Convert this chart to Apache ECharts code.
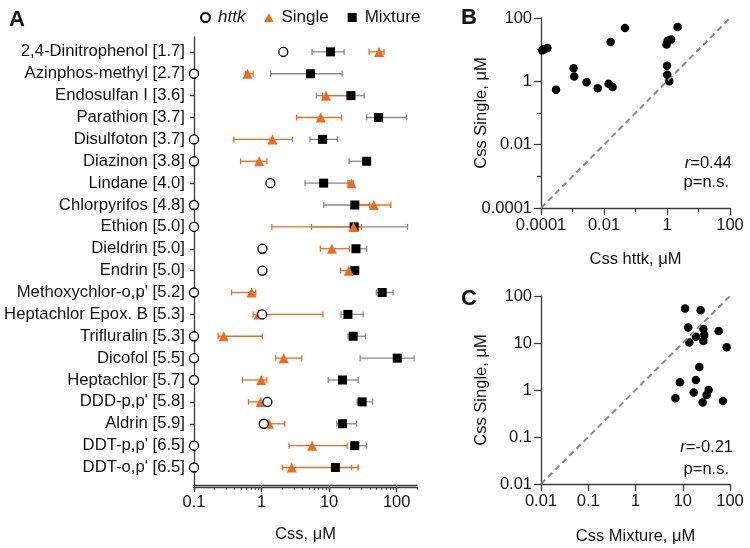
<!DOCTYPE html>
<html>
<head>
    <meta charset="utf-8" />
    <title>Css comparison</title>
    <script src="https://cdn.jsdelivr.net/npm/echarts@6/dist/echarts.min.js"></script>
    <style>
        body { margin: 0; background: #fff; }
        #main { width: 750px; height: 548px; }
    </style>
</head>
<body>
    <div id="main"></div>
    <script type="text/javascript">
        // panel A: chemicals [logP]
        var names = ['2,4-Dinitrophenol [1.7]', 'Azinphos-methyl [2.7]', 'Endosulfan I [3.6]', 'Parathion [3.7]',
            'Disulfoton [3.7]', 'Diazinon [3.8]', 'Lindane [4.0]', 'Chlorpyrifos [4.8]', 'Ethion [5.0]',
            'Dieldrin [5.0]', 'Endrin [5.0]', "Methoxychlor-o,p' [5.2]", 'Heptachlor Epox. B [5.3]',
            'Trifluralin [5.3]', 'Dicofol [5.5]', 'Heptachlor [5.7]', "DDD-p,p' [5.8]", 'Aldrin [5.9]',
            "DDT-p,p' [6.5]", "DDT-o,p' [6.5]"];
        var httk = [2.1, 0.1, null, null, 0.1, 0.1, 1.35, 0.1, 0.1, 1.03, 1.03, 0.1, 1.02, 0.1, 0.1, 0.1, 1.22, 1.08, 0.1, 0.1];
        var single = [55, 0.62, 9.0, 7.5, 1.45, 0.92, 21.5, 46, 23, 11, 19.6, 0.71, 0.9, 0.275, 2.13, 0.99, 0.97, 1.29, 5.6, 2.8];
        var singleLo = [39, 0.58, 8, 3.3, 0.39, 0.49, 19, 25, 1.42, 7.4, 14.8, 0.36, 0.75, 0.227, 1.62, 0.52, 0.64, 1.1, 2.55, 2.04];
        var singleHi = [65, 0.75, 24, 15.3, 2.87, 1.2, 23, 82, 30, 20, 22, 0.82, 8.1, 1.03, 3.94, 1.2, 1.2, 2.2, 18.5, 26.9];
        var mix = [10.5, 5.3, 21, 54, 8.0, 36, 8.3, 24, 23.5, 25, 24, 61, 19, 22.7, 102, 15.8, 30.8, 15.8, 24, 12.4];
        var mixLo = [5.6, 1.36, 6.5, 36, 5.2, 19.8, 4.4, 8.3, 5.5, 22, 22, 50, 15, 19, 28.8, 9.7, 26, 13, 21, 11.3];
        var mixHi = [16.7, 15.6, 33, 140, 13.3, 40, 20, 40, 145, 36, 26, 89, 32, 34.6, 181, 26.9, 44, 25.5, 35.8, 21.5];

        // panel B: httk vs single
        var bHttk = [0.00011, 0.00013, 0.00016, 0.0003, 0.00108, 0.00114, 0.0028, 0.0063, 0.014, 0.0187,
            0.0162, 0.0465, 2.17, 0.97, 1.05, 1.35, 1.0, 1.02, 1.18];
        var bSingle = [9.5, 10.5, 11.2, 0.54, 2.6, 1.43, 0.93, 0.6, 0.84, 0.66,
            17.5, 48, 52, 14.5, 19, 21, 3.1, 1.62, 1.0];

        // panel C: mixture vs single
        var cMix = [11.2, 23.9, 13.1, 27.3, 19, 28.6, 13.8, 27.3, 57.5, 85, 22.4, 101, 8.7, 19, 7.0, 17, 35.3, 32, 26.4, 71];
        var cSingle = [54, 50, 21.5, 19.8, 13.6, 14.8, 10.2, 11, 18, 8.1, 3.1, 2.6, 1.46, 1.63, 0.67, 0.88, 1.0, 0.78, 0.54, 0.58];

        // tick values
        var ticksA = [0.1, 1, 10, 100];
        var minorA = [0.2, 0.3, 0.4, 0.5, 0.6, 0.7, 0.8, 0.9, 2, 3, 4, 5, 6, 7, 8, 9, 20, 30, 40, 50, 60, 70, 80, 90, 200];
        var ticksB = [0.0001, 0.01, 1, 100];
        var minorB = [0.001, 0.1, 10];
        var ticksC = [0.01, 0.1, 1, 10, 100];

        var font = 'Liberation Sans, Arial, sans-serif';
        var txt = '#111';
        var orange = '#F06A1E';
        var gray = '#8a8a8a';
        var axisCol = '#3a3a3a';

        function fmt(v) {
            var e = Math.round(Math.log10(v));
            return e < 0 ? Math.pow(10, e).toFixed(-e) : String(Math.pow(10, e));
        }

        // first row at the top (19.8), last at 0.8; the y axis runs 0..20.48
        var rows = names.map(function (n, i) { return 19.8 - i; });
        function rowName(v) { return names[Math.round(19.8 - v)]; }

        function errBar(color) {
            return function (params, api) {
                var y = api.value(2);
                var a = api.coord([api.value(0), y]);
                var b = api.coord([api.value(1), y]);
                var st = { stroke: color, lineWidth: 1.3 };
                return {
                    type: 'group',
                    children: [
                        { type: 'line', shape: { x1: a[0], y1: a[1], x2: b[0], y2: b[1] }, style: st },
                        { type: 'line', shape: { x1: a[0], y1: a[1] - 3, x2: a[0], y2: a[1] + 3 }, style: st },
                        { type: 'line', shape: { x1: b[0], y1: b[1] - 3, x2: b[0], y2: b[1] + 3 }, style: st }
                    ]
                };
            };
        }

        // lineOn: draw the axis line; labels: draw tick labels
        function logAxis(grid, min, max, ticks, len, name, gap, lineOn, labels) {
            return {
                type: 'log', gridIndex: grid, min: min, max: max,
                axisLine: { show: true, lineStyle: { color: axisCol, width: 1.3, opacity: lineOn ? 1 : 0 } },
                axisTick: { show: true, customValues: ticks, length: len, lineStyle: { color: axisCol, width: 1.3 } },
                axisLabel: { show: labels, customValues: ticks, formatter: fmt, color: txt, fontSize: 16.5, fontFamily: font, margin: 9 },
                splitLine: { show: false },
                name: name, nameLocation: 'middle', nameGap: gap, nameMoveOverlap: false,
                nameTextStyle: { color: txt, fontSize: 16.5, fontFamily: font }
            };
        }

        function rowAxis(grid, main) {
            return {
                type: 'value', gridIndex: grid, min: 0, max: 20.48,
                axisLine: { show: main, lineStyle: { color: axisCol, width: 1.3 } },
                axisTick: { show: main, customValues: rows, length: 4, lineStyle: { color: axisCol, width: 1.3 } },
                axisLabel: {
                    show: main, customValues: rows, color: txt, fontSize: 16.7, fontFamily: font, margin: 9,
                    formatter: rowName
                },
                splitLine: { show: false }
            };
        }

        var chart = echarts.init(document.getElementById('main'));

        var gridA = { left: 194, top: 37, width: 223, height: 450 };
        var gridB = { left: 541, top: 18, width: 189, height: 190 };

        var option = {
            animation: false,
            textStyle: { fontFamily: font },
            legend: {
                left: 195, top: 4, itemWidth: 9, itemHeight: 9, itemGap: 19,
                textStyle: { color: txt, fontSize: 17, fontFamily: font, padding: [0, 0, 0, 3] },
                data: [{ name: 'httk', textStyle: { fontStyle: 'italic' } }, 'Single', 'Mixture']
            },
            grid: [
                gridA,
                gridA,
                gridB,
                gridB,
                { left: 541, top: 296, width: 189, height: 188 },
                gridA
            ],
            xAxis: [
                logAxis(0, 0.1, 200, ticksA, 5, 'Css, μM', 41, true, true),
                logAxis(1, 0.1, 200, minorA, 2.7, '', 0, true, false),
                logAxis(2, 0.0001, 100, ticksB, 7, 'Css httk, μM', 43, true, true),
                logAxis(3, 0.0001, 100, minorB, 4, '', 0, false, false),
                logAxis(4, 0.01, 100, ticksC, 7, 'Css Mixture, μM', 44, true, true),
                logAxis(5, 0.1, 200, ticksA, 5, '', 0, false, false)
            ],
            yAxis: [
                rowAxis(0, true),
                rowAxis(1, false),
                logAxis(2, 0.0001, 100, ticksB, 7, 'Css Single, μM', 51, true, true),
                logAxis(3, 0.0001, 100, minorB, 4, '', 0, false, false),
                logAxis(4, 0.01, 100, ticksC, 7, 'Css Single, μM', 51, true, true),
                rowAxis(5, false)
            ],
            series: [
                {
                    name: 'mixErr', type: 'custom', xAxisIndex: 0, yAxisIndex: 0,
                    renderItem: errBar(gray), encode: { x: [0, 1], y: 2 },
                    data: mix.map(function (v, i) { return [mixLo[i], mixHi[i], rows[i]]; })
                },
                {
                    name: 'Mixture', type: 'scatter', xAxisIndex: 0, yAxisIndex: 0,
                    symbol: 'rect', symbolSize: 9, itemStyle: { color: '#000', opacity: 1 },
                    data: mix.map(function (v, i) { return [v, rows[i]]; })
                },
                {
                    name: 'singleErr', type: 'custom', xAxisIndex: 0, yAxisIndex: 0,
                    renderItem: errBar(orange), encode: { x: [0, 1], y: 2 },
                    data: single.map(function (v, i) { return [singleLo[i], singleHi[i], rows[i]]; })
                },
                {
                    name: 'Single', type: 'scatter', xAxisIndex: 0, yAxisIndex: 0,
                    symbol: 'triangle', symbolSize: 10, itemStyle: { color: orange, opacity: 1 },
                    data: single.map(function (v, i) { return [v, rows[i]]; })
                },
                {
                    name: 'httk', type: 'scatter', xAxisIndex: 0, yAxisIndex: 0,
                    symbol: 'circle', symbolSize: 9,
                    itemStyle: { color: '#fff', borderColor: '#000', borderWidth: 1.3, opacity: 1 },
                    data: httk.map(function (v, i) { return v == null ? null : [v, rows[i]]; })
                        .filter(function (d) { return d; })
                },
                {
                    type: 'line', xAxisIndex: 2, yAxisIndex: 2, symbol: 'none', silent: true,
                    lineStyle: { color: gray, width: 2, type: [6, 4] },
                    data: [[0.0001, 0.0001], [100, 100]]
                },
                {
                    type: 'scatter', xAxisIndex: 2, yAxisIndex: 2, symbolSize: 8.5,
                    itemStyle: { color: '#000', opacity: 1 },
                    data: bHttk.map(function (v, i) { return [v, bSingle[i]]; })
                },
                {
                    type: 'line', xAxisIndex: 4, yAxisIndex: 4, symbol: 'none', silent: true,
                    lineStyle: { color: gray, width: 2, type: [6, 4] },
                    data: [[0.01, 0.01], [100, 100]]
                },
                {
                    type: 'scatter', xAxisIndex: 4, yAxisIndex: 4, symbolSize: 8.5,
                    itemStyle: { color: '#000', opacity: 1 },
                    data: cMix.map(function (v, i) { return [v, cSingle[i]]; })
                }
            ],
            graphic: [
                { type: 'text', left: 9, top: 9, style: { text: 'A', font: 'bold 22px ' + font, fill: txt } },
                { type: 'text', left: 461, top: 7, style: { text: 'B', font: 'bold 22px ' + font, fill: txt } },
                { type: 'text', left: 461, top: 288, style: { text: 'C', font: 'bold 22px ' + font, fill: txt } },
                {
                    type: 'text', right: 18, top: 155,
                    style: { text: '{i|r}=0.44', font: '16.5px ' + font, fill: txt, rich: { i: { fontStyle: 'italic', fontSize: 16.5, fontFamily: font } } }
                },
                { type: 'text', right: 21, top: 174, style: { text: 'p=n.s.', font: '16.5px ' + font, fill: txt } },
                {
                    type: 'text', right: 17, top: 439,
                    style: { text: '{i|r}=-0.21', font: '16.5px ' + font, fill: txt, rich: { i: { fontStyle: 'italic', fontSize: 16.5, fontFamily: font } } }
                },
                { type: 'text', right: 21, top: 461, style: { text: 'p=n.s.', font: '16.5px ' + font, fill: txt } }
            ]
        };

        chart.setOption(option);
    </script>
</body>
</html>
